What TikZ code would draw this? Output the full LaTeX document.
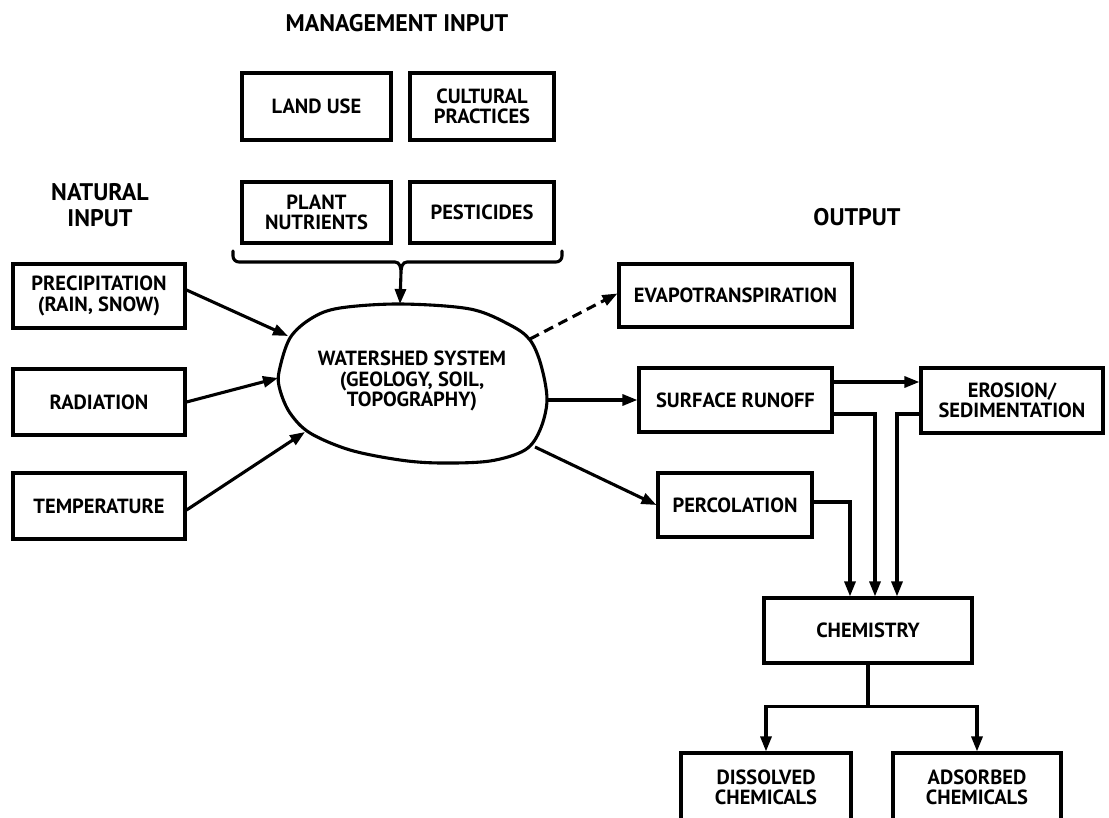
\documentclass[tikz,border=0pt]{standalone}
\usepackage{fontspec}
\setmainfont{PT Sans}
\usetikzlibrary{arrows.meta}
\begin{document}
\begin{tikzpicture}[x=1pt,y=-1pt,
  every node/.style={font=\bfseries\fontsize{20.5}{20.5}\selectfont, align=center, inner sep=0pt},
  box/.style={draw, line width=3.1pt},
  title/.style={font=\bfseries\fontsize{24}{26}\selectfont},
  conn/.style={line width=3.1pt, line join=miter},
  arr/.style={conn, -{Triangle[length=15pt,width=11pt]}},
  dasharr/.style={arr, dash pattern=on 10pt off 6pt}
]
\useasboundingbox (0,0) rectangle (1109,818);
\clip (0,0) rectangle (1109,818);

% titles
\node[title] (mtitle) at (397,23) {MANAGEMENT INPUT};
\node[title] (ntitle) at (100,205) {NATURAL\\INPUT};
\node[title] (otitle) at (857,217) {OUTPUT};

% management boxes
\node[box, minimum width=149pt, minimum height=67pt] (landuse) at (316.5,106.5) {LAND USE};
\node[box, minimum width=144pt, minimum height=67pt] (cultural) at (482,106.5) {CULTURAL\\PRACTICES};
\node[box, minimum width=149pt, minimum height=61pt] (plant) at (316.5,212.5) {PLANT\\NUTRIENTS};
\node[box, minimum width=144pt, minimum height=61pt] (pest) at (482,212.5) {PESTICIDES};

% natural input boxes
\node[box, minimum width=172pt, minimum height=64pt] (precip) at (99,296) {PRECIPITATION\\(RAIN, SNOW)};
\node[box, minimum width=172pt, minimum height=66pt] (rad) at (99,402) {RADIATION};
\node[box, minimum width=172pt, minimum height=66pt] (temp) at (99,506) {TEMPERATURE};

% output boxes
\node[box, minimum width=233pt, minimum height=63pt] (evap) at (735.5,295.5) {EVAPOTRANSPIRATION};
\node[box, minimum width=193pt, minimum height=64pt] (runoff) at (735.5,400) {SURFACE RUNOFF};
\node[box, minimum width=182pt, minimum height=65pt] (erosion) at (1012,400.5) {EROSION/\\SEDIMENTATION};
\node[box, minimum width=154pt, minimum height=64pt] (perc) at (735,505) {PERCOLATION};
\node[box, minimum width=208pt, minimum height=65pt] (chem) at (868,630.5) {CHEMISTRY};
\node[box, minimum width=170pt, minimum height=69pt] (diss) at (766,787.5) {DISSOLVED\\CHEMICALS};
\node[box, minimum width=168pt, minimum height=69pt] (ads) at (977,787.5) {ADSORBED\\CHEMICALS};

% watershed blob
\draw[line width=3.1pt] plot[smooth cycle, tension=0.55] coordinates {
 (279,372) (290,338) (312,318) (340,308) (400,304) (470,309) (510,325)
 (530,340) (541,365) (547,400) (540,430) (525,450) (490,461) (440,463)
 (400,460) (350,450) (310,433) (290,413) (280,390)};
\node (ws) at (412,381) {WATERSHED SYSTEM\\(GEOLOGY, SOIL,\\TOPOGRAPHY)};
\coordinate (wsN) at (400,304);
\coordinate (wsW1) at (288,336);
\coordinate (wsW2) at (278,378);
\coordinate (wsW3) at (305,432);
\coordinate (wsNE) at (530,339);
\coordinate (wsE) at (547,400);
\coordinate (wsSE) at (535,447);

% brace
\coordinate (brtip) at (401,272);
\draw[conn, line cap=round] (233,251) -- (233,256) to[out=-90,in=180] (239,262) -- (395,262)
  to[out=0,in=90] (brtip) to[out=90,in=180] (407,262) -- (556,262) to[out=0,in=-90] (562,256) -- (562,251);
\draw[arr] (brtip) -- (wsN);

% natural inputs
\draw[arr] ([yshift=6pt]precip.east) -- (wsW1);
\draw[arr] (rad.east) -- (wsW2);
\draw[arr] ([yshift=-4pt]temp.east) -- (wsW3);

% outputs
\draw[dasharr] (wsNE) -- ([yshift=2pt]evap.west);
\draw[arr] (wsE) -- (runoff.west);
\draw[arr] (wsSE) -- (perc.west);
\draw[arr] ([yshift=18pt]runoff.east) -- ([yshift=18pt]runoff.east -| erosion.west);
\draw[arr] ([yshift=-14pt]runoff.east) -| ([xshift=7pt]chem.north);
\draw[arr] ([yshift=-13.5pt]erosion.west) -| ([xshift=29pt]chem.north);
\draw[arr] ([yshift=3pt]perc.east) -| ([xshift=-18pt]chem.north);

% chemistry split
\draw[conn] (chem.south) -- ++(0,42) coordinate (split);
\draw[arr] (split) -| (diss.north);
\draw[arr] (split) -| (ads.north);
\end{tikzpicture}
\end{document}
